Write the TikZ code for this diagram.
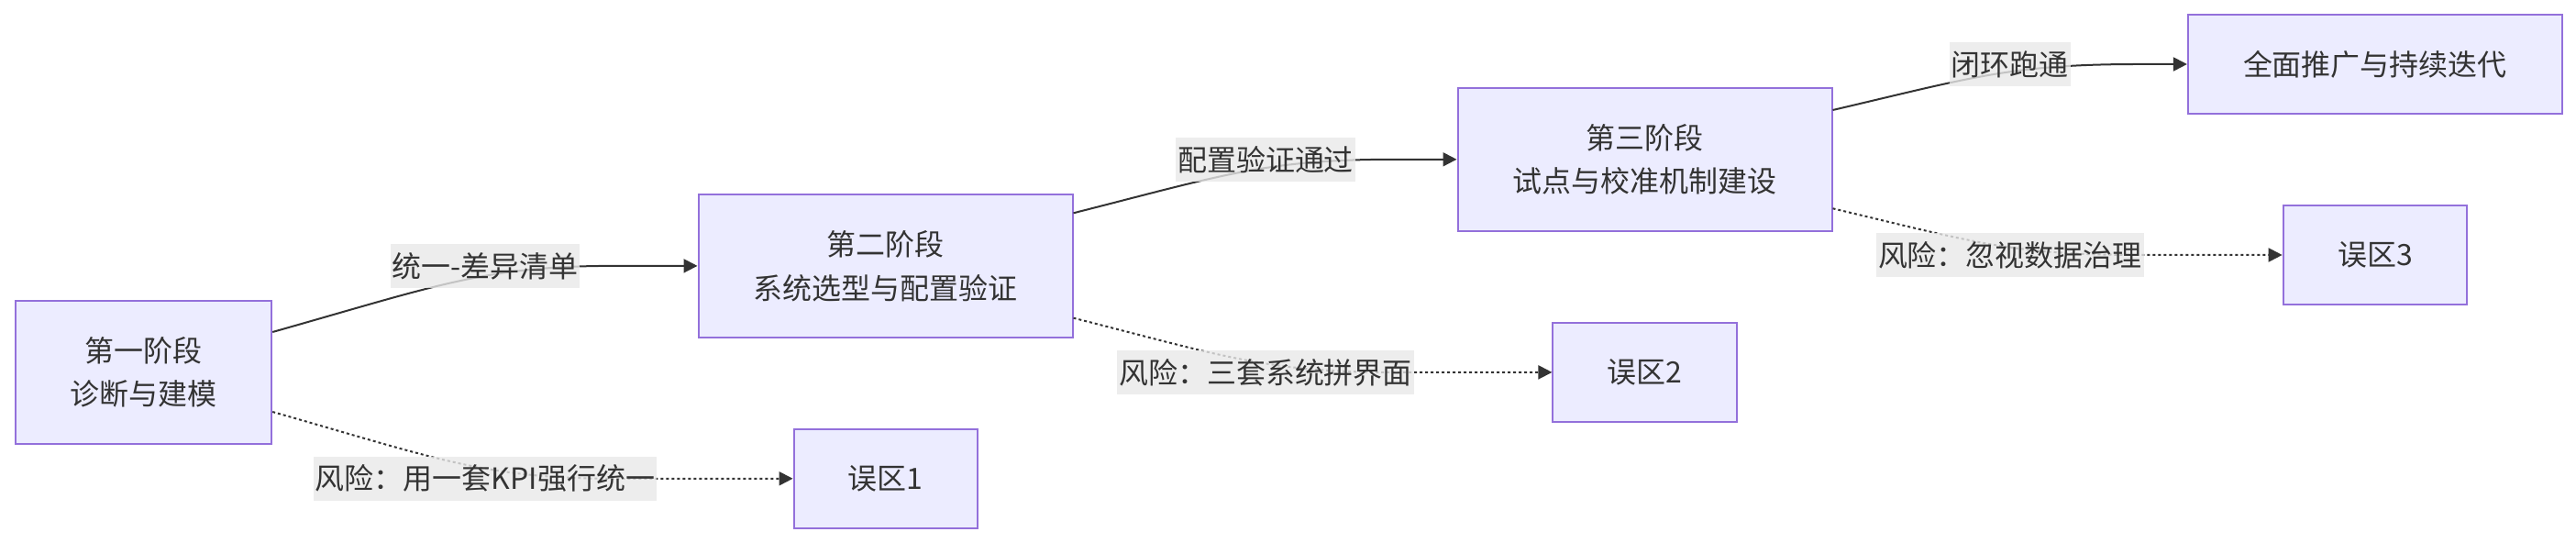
\documentclass[tikz,border=0pt]{standalone}
\usepackage{fontspec}
\setmainfont{Noto Sans CJK SC}
\usetikzlibrary{arrows.meta}
\definecolor{phasefill}{HTML}{ECECFF}
\definecolor{phaseline}{HTML}{9370DB}
\definecolor{inkgray}{HTML}{333333}
\definecolor{labelbg}{HTML}{E8E8E8}

\begin{document}
\begin{tikzpicture}[
        every node/.style={font=\fontsize{9.1pt}{13.6pt}\selectfont, text=inkgray},
        phase/.style={draw=phaseline, fill=phasefill, line width=0.02cm, align=center, inner sep=0pt, minimum width=4.08cm, minimum height=1.56cm},
        pit/.style={phase, minimum width=2.005cm, minimum height=1.083cm},
        edgelabel/.style={fill=labelbg, fill opacity=0.8, text opacity=1, inner xsep=0.5pt, inner ysep=0pt, minimum height=0.477cm},
        flow/.style={draw=inkgray, line width=0.02cm, -{Triangle[length=0.15cm, width=0.15cm]}},
        riskflow/.style={flow, dash pattern=on 0.03cm off 0.03cm}
    ]
            \useasboundingbox (0,0) rectangle (28.09,5.92);

            % Phase boxes
            \node[phase, minimum width=2.794cm] (p1) at (1.565, 1.861) {第一阶段\\诊断与建模};
            \node[phase] (p2) at (9.655, 3.021) {第二阶段\\系统选型与配置验证};
            \node[phase] (p3) at (17.935, 4.182) {第三阶段\\试点与校准机制建设};
            \node[phase, minimum height=1.086cm] (p4) at (25.899, 5.22) {全面推广与持续迭代};

            % Pitfall boxes
            \node[pit] (m1) at (9.658, 0.702) {误区1};
            \node[pit] (m2) at (17.937, 1.861) {误区2};
            \node[pit] (m3) at (25.899, 3.14) {误区3};

            % Main path
            \draw[flow] ([yshift=0.439cm]p1.east) .. controls +(1.79,0.505) and +(-1.4,0) .. (6.69,3.021) -- (p2.west);
            \draw[flow] ([yshift=0.576cm]p2.east) .. controls +(1.62,0.41) and +(-1.4,0) .. (15.20,4.182) -- (p3.west);
            \draw[flow] ([yshift=0.538cm]p3.east) .. controls +(1.50,0.35) and +(-1.4,0) .. (23.319,5.22) -- (p4.west);

            % Risk paths
            \draw[riskflow] ([yshift=-0.431cm]p1.east) .. controls +(1.79,-0.51) and +(-1.4,0) .. (6.69,0.702) -- (m1.west);
            \draw[riskflow] ([yshift=-0.568cm]p2.east) .. controls +(1.62,-0.41) and +(-1.4,0) .. (15.20,1.861) -- (m2.west);
            \draw[riskflow] ([yshift=-0.535cm]p3.east) .. controls +(1.50,-0.355) and +(-1.4,0) .. (23.319,3.14) -- (m3.west);

            % Edge labels
            \node[edgelabel] (l1) at (5.29, 3.021) {统一-差异清单};
            \node[edgelabel] (l2) at (13.80, 4.182) {配置验证通过};
            \node[edgelabel] (l3) at (21.919, 5.22) {闭环跑通};
            \node[edgelabel] (r1) at (5.29, 0.702) {风险：用一套KPI强行统一};
            \node[edgelabel] (r2) at (13.80, 1.861) {风险：三套系统拼界面};
            \node[edgelabel] (r3) at (21.919, 3.14) {风险：忽视数据治理};
        \end{tikzpicture}
\end{document}
